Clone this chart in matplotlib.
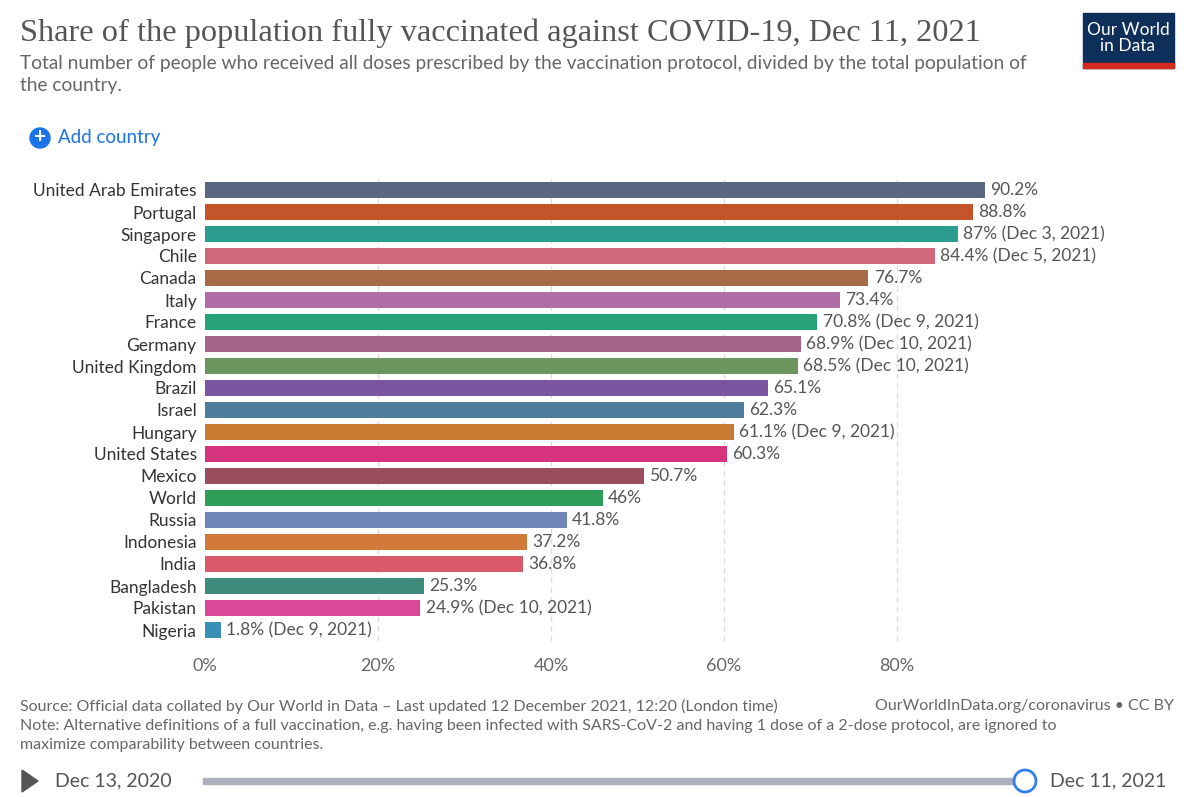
import matplotlib.pyplot as plt
from matplotlib.patches import Rectangle, Circle, Polygon

countries = ["United Arab Emirates", "Portugal", "Singapore", "Chile", "Canada", "Italy",
             "France", "Germany", "United Kingdom", "Brazil", "Israel", "Hungary",
             "United States", "Mexico", "World", "Russia", "Indonesia", "India",
             "Bangladesh", "Pakistan", "Nigeria"]
values = [90.2, 88.8, 87, 84.4, 76.7, 73.4, 70.8, 68.9, 68.5, 65.1, 62.3, 61.1,
          60.3, 50.7, 46, 41.8, 37.2, 36.8, 25.3, 24.9, 1.8]
labels = ["90.2%", "88.8%", "87% (Dec 3, 2021)", "84.4% (Dec 5, 2021)", "76.7%", "73.4%",
          "70.8% (Dec 9, 2021)", "68.9% (Dec 10, 2021)", "68.5% (Dec 10, 2021)", "65.1%",
          "62.3%", "61.1% (Dec 9, 2021)", "60.3%", "50.7%", "46%", "41.8%", "37.2%",
          "36.8%", "25.3%", "24.9% (Dec 10, 2021)", "1.8% (Dec 9, 2021)"]
colors = ["#5b6680", "#c4552b", "#2a9d8f", "#d0677a", "#a86b47", "#b06ea8", "#26a17a",
          "#a3658c", "#6d9560", "#7b55a0", "#4f7c9c", "#c77b30", "#d6337f", "#9a4d5e",
          "#2e9e58", "#6f85b5", "#d27a39", "#db5a6a", "#3e8a7d", "#d9499a", "#3a8fb7"]
ticks = [0, 20, 40, 60, 80]

plt.rcParams['font.family'] = ['Lato', 'DejaVu Sans']
fig = plt.figure(figsize=(11.86, 7.97), dpi=100)
ax = fig.add_axes([205 / 1186, 1 - 641 / 797, 865 / 1186, 462 / 797])
y = list(range(len(countries)))
ax.barh(y, values, height=0.75, color=colors, zorder=2)
for yi, v, lab in zip(y, values, labels):
    ax.text(v + 0.6, yi, lab, va='center', ha='left', fontsize=12.5, color='#555555')
ax.set_xlim(0, 100)
ax.set_ylim(len(countries) - 0.5, -0.5)
ax.set_yticks(y)
ax.set_yticklabels(countries, fontsize=12.5, color='#333333')
ax.set_xticks(ticks)
ax.set_xticklabels([f"{t}%" for t in ticks], fontsize=13, color='#666666')
ax.tick_params(axis='y', length=0, pad=6)
ax.tick_params(axis='x', length=0, pad=12)
for t in ticks[1:]:
    ax.axvline(t, color='#dddddd', ls=(0, (4, 3)), lw=1, zorder=1)
for s in ax.spines.values():
    s.set_visible(False)

fig.text(20 / 1186, 1 - 33 / 797, "Share of the population fully vaccinated against COVID-19, Dec 11, 2021",
         family='Liberation Serif', fontsize=23.3, color='#555555', va='center')
fig.text(20 / 1186, 1 - 63 / 797, "Total number of people who received all doses prescribed by the vaccination protocol, divided by the total population of",
         fontsize=13.8, color='#666666', va='center')
fig.text(20 / 1186, 1 - 86 / 797, "the country.", fontsize=13.8, color='#666666', va='center')

ax2 = fig.add_axes([0, 0, 1, 1], facecolor='none')
ax2.set_xlim(0, 1186); ax2.set_ylim(797, 0); ax2.axis('off')
ax2.add_patch(Circle((40, 138), 10, color='#1a73e8'))
ax2.text(40, 137, "+", color='white', fontsize=15, fontweight='bold', ha='center', va='center')
fig.text(58 / 1186, 1 - 138 / 797, "Add country", fontsize=13.5, color='#1a73e8', va='center')

# logo
ax2.add_patch(Rectangle((1083, 13), 91, 55, color='#0e2f5a'))
ax2.add_patch(Rectangle((1083, 63), 91, 5, color='#d42b21'))
fig.text(1128 / 1186, 1 - 38 / 797, "Our World\nin Data", color='white', fontsize=12.5,
         ha='center', va='center', linespacing=1.0)

fig.text(20 / 1186, 1 - 706 / 797, "Source: Official data collated by Our World in Data \u2013 Last updated 12 December 2021, 12:20 (London time)",
         fontsize=11.5, color='#666666', va='center')
fig.text(1174 / 1186, 1 - 706 / 797, "OurWorldInData.org/coronavirus \u2022 CC BY",
         fontsize=11.5, color='#666666', va='center', ha='right')
fig.text(20 / 1186, 1 - 726 / 797, "Note: Alternative definitions of a full vaccination, e.g. having been infected with SARS-CoV-2 and having 1 dose of a 2-dose protocol, are ignored to",
         fontsize=11.5, color='#666666', va='center')
fig.text(20 / 1186, 1 - 745 / 797, "maximize comparability between countries.",
         fontsize=11.5, color='#666666', va='center')

# timeline
ax2.add_patch(Polygon([(22, 770), (22, 792), (38, 781)], color='#555555'))
fig.text(55 / 1186, 1 - 781 / 797, "Dec 13, 2020", fontsize=14, color='#555555', va='center')
ax2.add_patch(Rectangle((203, 778), 820, 6, color='#aab0bd'))
ax2.add_patch(Circle((1025, 781), 11, facecolor='white', edgecolor='#2f80ed', lw=2))
fig.text(1050 / 1186, 1 - 781 / 797, "Dec 11, 2021", fontsize=14, color='#555555', va='center')

fig.savefig("out.png", dpi=100)
